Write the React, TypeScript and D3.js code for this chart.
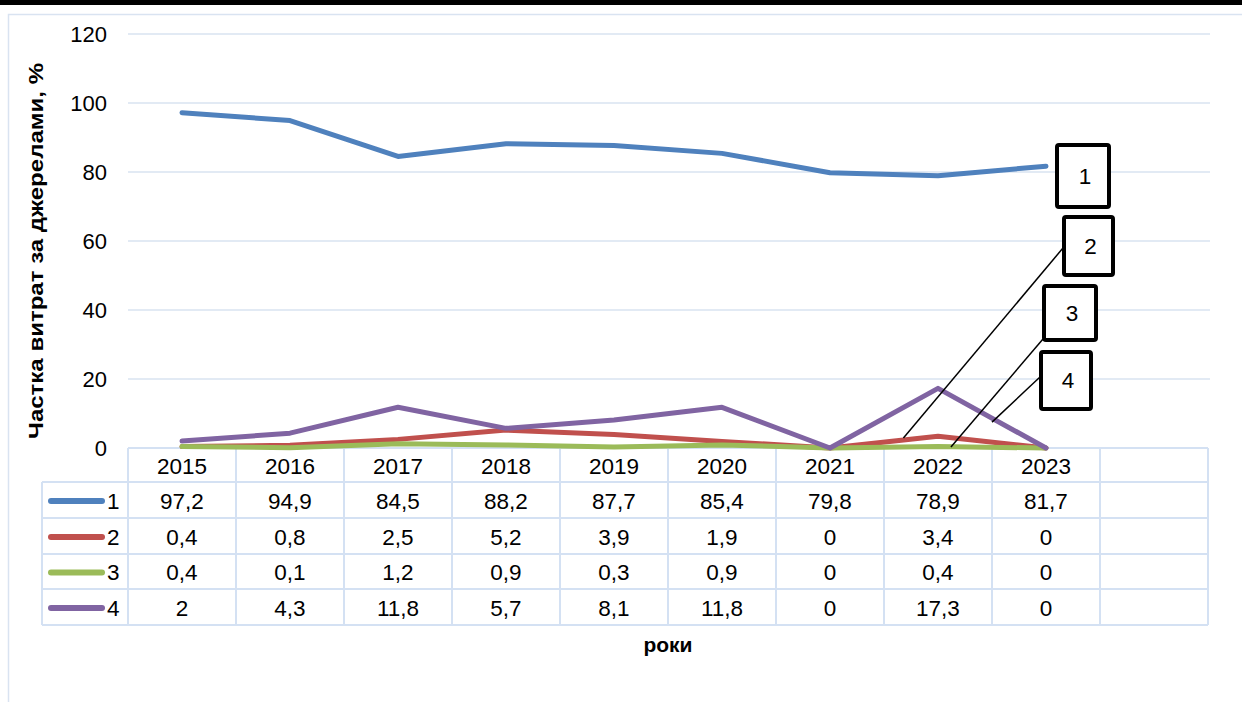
import { useEffect, useRef } from 'react'
import * as d3 from 'd3'

const years = ['2015', '2016', '2017', '2018', '2019', '2020', '2021', '2022', '2023', '']
const seriesNames = ['1', '2', '3', '4']
const values1 = [97.2, 94.9, 84.5, 88.2, 87.7, 85.4, 79.8, 78.9, 81.7]
const values2 = [0.4, 0.8, 2.5, 5.2, 3.9, 1.9, 0, 3.4, 0]
const values3 = [0.4, 0.1, 1.2, 0.9, 0.3, 0.9, 0, 0.4, 0]
const values4 = [2, 4.3, 11.8, 5.7, 8.1, 11.8, 0, 17.3, 0]
const colors = ['#4f81bd', '#c0504d', '#9bbb59', '#8064a2']
const yTicks = [0, 20, 40, 60, 80, 100, 120]

// callout label boxes; anchor = [year index (fractional), value] the leader line points at
const callouts = [
  { name: '1', box: [1057, 145, 52, 62], anchor: null as null | [number, number], from: [0, 0] },
  { name: '2', box: [1064, 217, 49, 58], anchor: [6.68, 2.9] as [number, number], from: [1063, 248] },
  { name: '3', box: [1044, 286, 52, 54], anchor: [7.12, 0.3] as [number, number], from: [1043, 339] },
  { name: '4', box: [1041, 352, 50, 57], anchor: [7.5, 7.5] as [number, number], from: [1040, 377] },
]

const App = () => {
  const ref = useRef<SVGSVGElement | null>(null)

  useEffect(() => {
    if (!ref.current) return
    const svg = d3.select(ref.current)
    svg.selectAll('*').remove()

    const font = '"Liberation Sans", Arial, sans-serif'
    const gridColor = '#d9e3f1'
    const left = 128
    const right = 1208
    const x = d3.scaleBand<string>().domain(years.map((y, i) => y || `e${i}`)).range([left, right])
    const xc = (i: number) => left + x.bandwidth() * (i + 0.5)
    const y = d3.scaleLinear().domain([0, 120]).range([448, 34])

    svg.append('rect').attr('width', 1242).attr('height', 702).attr('fill', '#fff')
    svg.append('rect').attr('x', 0).attr('y', 0).attr('width', 1242).attr('height', 5).attr('fill', '#000')
    svg
      .append('rect')
      .attr('x', 8.5)
      .attr('y', 14.5)
      .attr('width', 1260)
      .attr('height', 720)
      .attr('fill', 'none')
      .attr('stroke', gridColor)
      .attr('stroke-width', 1.5)

    // grid
    svg
      .append('g')
      .selectAll('line')
      .data(yTicks.filter((t) => t > 0))
      .join('line')
      .attr('x1', left)
      .attr('x2', 1210)
      .attr('y1', (d) => y(d))
      .attr('y2', (d) => y(d))
      .attr('stroke', gridColor)
      .attr('stroke-width', 1.5)

    svg
      .append('g')
      .selectAll('text')
      .data(yTicks)
      .join('text')
      .attr('x', 107)
      .attr('y', (d) => y(d))
      .attr('dy', '0.35em')
      .attr('text-anchor', 'end')
      .attr('font-family', font)
      .attr('font-size', 22)
      .attr('fill', '#000')
      .text((d) => d)

    // data table
    const rowH = [448, 482, 518, 554, 589, 625]
    const tg = svg.append('g').attr('stroke', '#d4e1f3').attr('stroke-width', 2).attr('fill', 'none')
    tg.append('line').attr('x1', left).attr('x2', right).attr('y1', rowH[0]).attr('y2', rowH[0])
    rowH.slice(1).forEach((r) => {
      tg.append('line').attr('x1', 42).attr('x2', right).attr('y1', r).attr('y2', r)
    })
    d3.range(years.length + 1).forEach((i) => {
      tg.append('line')
        .attr('x1', left + x.bandwidth() * i)
        .attr('x2', left + x.bandwidth() * i)
        .attr('y1', rowH[0])
        .attr('y2', rowH[5])
    })
    tg.append('line').attr('x1', 42).attr('x2', 42).attr('y1', rowH[1]).attr('y2', rowH[5])

    const textStyle = (s: d3.Selection<SVGTextElement, unknown, null, undefined>) =>
      s.attr('font-family', font).attr('font-size', 22.5).attr('fill', '#000').attr('dy', '0.35em')

    years.forEach((yr, i) => {
      svg.append('text').attr('x', xc(i)).attr('y', 466).attr('text-anchor', 'middle').call(textStyle).text(yr)
    })

    const all = [values1, values2, values3, values4]
    all.forEach((vals, s) => {
      const cy = (rowH[s + 1] + rowH[s + 2]) / 2 + 1
      svg
        .append('line')
        .attr('x1', 51)
        .attr('x2', 102)
        .attr('y1', cy)
        .attr('y2', cy)
        .attr('stroke', colors[s])
        .attr('stroke-width', 6)
        .attr('stroke-linecap', 'round')
      svg.append('text').attr('x', 107).attr('y', cy).call(textStyle).text(seriesNames[s])
      vals.forEach((v, i) => {
        svg
          .append('text')
          .attr('x', xc(i))
          .attr('y', cy)
          .attr('text-anchor', 'middle')
          .call(textStyle)
          .text(String(v).replace('.', ','))
      })
    })

    const line = d3
      .line<number>()
      .x((_, i) => xc(i))
      .y((d) => y(d))
    all.forEach((vals, s) => {
      svg
        .append('path')
        .datum(vals)
        .attr('d', line)
        .attr('fill', 'none')
        .attr('stroke', colors[s])
        .attr('stroke-width', 5)
        .attr('stroke-linejoin', 'round')
        .attr('stroke-linecap', 'round')
    })

    // callouts
    callouts.forEach((c) => {
      if (c.anchor) {
        const [ai, av] = c.anchor
        svg
          .append('line')
          .attr('x1', c.from[0])
          .attr('y1', c.from[1])
          .attr('x2', xc(ai))
          .attr('y2', y(av))
          .attr('stroke', '#000')
          .attr('stroke-width', 1.5)
      }
      const [bx, by, bw, bh] = c.box
      svg
        .append('rect')
        .attr('x', bx)
        .attr('y', by)
        .attr('width', bw)
        .attr('height', bh)
        .attr('rx', 2)
        .attr('fill', '#fff')
        .attr('stroke', '#000')
        .attr('stroke-width', 4)
      svg
        .append('text')
        .attr('x', bx + bw / 2 + 2)
        .attr('y', by + bh / 2)
        .attr('text-anchor', 'middle')
        .call(textStyle)
        .text(c.name)
    })

    // axis titles
    svg
      .append('text')
      .attr('transform', 'translate(36,251) rotate(-90)')
      .attr('text-anchor', 'middle')
      .attr('font-family', font)
      .attr('font-weight', 'bold')
      .attr('font-size', 21)
      .attr('dy', '0.35em')
      .attr('textLength', 376)
      .attr('lengthAdjust', 'spacingAndGlyphs')
      .text('Частка витрат за джерелами, %')
    svg
      .append('text')
      .attr('x', 668)
      .attr('y', 645)
      .attr('text-anchor', 'middle')
      .attr('font-family', font)
      .attr('font-weight', 'bold')
      .attr('font-size', 21)
      .attr('dy', '0.35em')
      .text('роки')
  }, [])

  return (
    <svg
      ref={ref}
      width={1242}
      height={702}
      style={{ position: 'absolute', left: 0, top: 0, display: 'block' }}
    />
  )
}

export default App
